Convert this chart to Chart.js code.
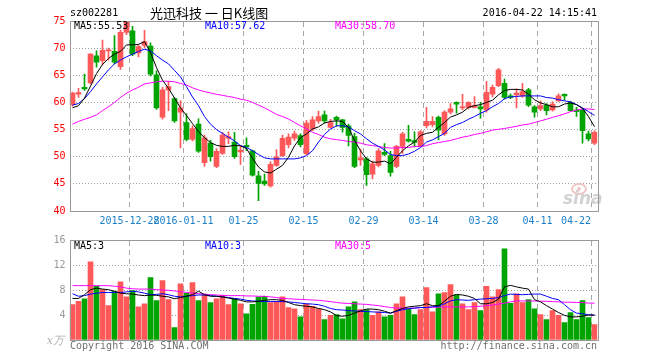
<!DOCTYPE html>
<html>
<head>
<meta charset="utf-8">
<script src="https://cdn.jsdelivr.net/npm/chart.js@4.4.1/dist/chart.umd.min.js"></script>
<style>
  html, body { margin: 0; padding: 0; background: #fff; }
  #wrap { position: relative; width: 660px; height: 360px; }
  #kline { position: absolute; left: 0; top: 0; }
  #vol { position: absolute; left: 0; top: 230px; }
</style>
</head>
<body>
<div id="wrap">
  <canvas id="kline" width="660" height="230"></canvas>
  <canvas id="vol" width="660" height="130"></canvas>
</div>
<script>
const dates = [
  "2015-12-14","2015-12-15","2015-12-16","2015-12-17","2015-12-18","2015-12-21","2015-12-22","2015-12-23","2015-12-24","2015-12-25",
  "2015-12-28","2015-12-29","2015-12-30","2015-12-31","2016-01-04","2016-01-05","2016-01-06","2016-01-07","2016-01-08","2016-01-11",
  "2016-01-12","2016-01-13","2016-01-14","2016-01-15","2016-01-18","2016-01-19","2016-01-20","2016-01-21","2016-01-22","2016-01-25",
  "2016-01-26","2016-01-27","2016-01-28","2016-01-29","2016-02-01","2016-02-02","2016-02-03","2016-02-04","2016-02-05","2016-02-15",
  "2016-02-16","2016-02-17","2016-02-18","2016-02-19","2016-02-22","2016-02-23","2016-02-24","2016-02-25","2016-02-26","2016-02-29",
  "2016-03-01","2016-03-02","2016-03-03","2016-03-04","2016-03-07","2016-03-08","2016-03-09","2016-03-10","2016-03-11","2016-03-14",
  "2016-03-15","2016-03-16","2016-03-17","2016-03-18","2016-03-21","2016-03-22","2016-03-23","2016-03-24","2016-03-25","2016-03-28",
  "2016-03-29","2016-03-30","2016-03-31","2016-04-01","2016-04-05","2016-04-06","2016-04-07","2016-04-08","2016-04-11","2016-04-12",
  "2016-04-13","2016-04-14","2016-04-15","2016-04-18","2016-04-19","2016-04-20","2016-04-21","2016-04-22"
];

// axis labels shown under the k-line panel
const tickDates = ["2015-12-28","2016-01-11","2016-01-25","2016-02-15","2016-02-29","2016-03-14","2016-03-28","2016-04-11","2016-04-22"];
const tickTexts = ["2015-12-28","2016-01-11","01-25","02-15","02-29","03-14","03-28","04-11","04-22"];

const opens = [
  59.6,61.5,62.8,63.6,68.6,67.7,69.5,69.4,66.6,72.9,
  73.2,69.1,70.5,70.4,65.1,57.3,62.3,60.7,58.2,56.3,
  53.2,56.0,48.9,52.5,48.2,50.6,53.4,52.7,50.9,52.1,
  51.1,46.5,45.5,44.6,48.4,50.2,52.2,53.4,53.9,50.5,
  55.1,56.6,57.7,55.4,57.25,56.8,55.7,53.7,49.4,49.6,
  46.8,48.4,50.8,50.2,48.2,51.9,53.2,52.95,51.9,55.7,
  55.9,57.25,54.2,58.2,60.0,59.0,59.1,59.1,59.2,58.6,
  61.5,63.1,63.5,61.2,61.4,61.2,62.3,59.2,58.8,59.5,
  58.6,60.3,61.5,60.0,58.6,58.6,54.2,52.5
];
const closes = [
  61.7,61.8,62.5,68.9,67.4,69.6,69.7,67.4,72.9,75.0,
  68.9,70.3,71.2,65.2,59.0,62.3,62.9,56.6,59.0,53.2,
  55.2,51.0,53.5,50.0,51.0,54.0,53.7,50.0,51.2,51.8,
  46.6,45.1,45.0,48.6,50.0,53.4,53.6,54.2,52.2,56.2,
  56.8,57.4,56.6,56.3,56.8,55.4,53.9,48.2,49.8,46.7,
  48.7,51.1,50.4,47.1,51.9,54.2,52.85,52.65,54.6,56.5,
  56.5,54.9,58.2,58.8,59.7,59.2,60.0,59.4,58.8,61.85,
  62.8,66.0,60.9,60.9,61.7,62.0,59.5,58.2,59.4,58.5,
  59.7,61.2,61.2,58.5,58.3,54.8,53.3,54.5
];
const highs = [
  61.9,62.6,65.2,69.0,69.5,71.5,70.0,72.3,73.3,75.6,
  74.0,70.6,73.3,71.0,65.8,62.8,63.9,60.9,60.3,57.9,
  55.7,57.0,54.0,53.0,51.5,54.5,54.6,54.5,52.0,53.5,
  51.2,47.3,46.8,49.1,51.3,54.0,54.2,54.7,54.2,56.7,
  57.4,58.4,58.4,56.9,57.5,56.9,56.0,54.3,51.4,49.9,
  49.2,51.5,52.4,51.0,52.1,54.5,55.8,54.6,54.8,59.1,
  57.4,57.5,58.5,59.8,60.1,61.5,60.1,61.1,60.0,63.9,
  63.2,66.3,64.3,61.6,62.5,63.5,62.6,59.4,60.3,59.8,
  60.1,61.6,61.6,60.2,59.1,58.8,54.7,54.8
];
const lows = [
  59.3,60.9,62.2,63.4,66.5,66.9,67.8,67.1,66.1,72.5,
  68.6,68.4,70.1,64.9,58.7,56.9,58.5,56.3,51.6,52.9,
  52.9,50.8,48.2,49.2,48.0,50.4,52.4,49.7,48.6,51.1,
  46.4,41.9,44.7,44.4,48.2,50.0,51.6,53.0,51.8,50.4,
  54.8,56.2,56.2,55.3,55.6,54.5,52.0,48.0,48.4,44.7,
  45.9,48.1,50.2,46.4,48.0,50.5,52.7,51.8,51.8,55.3,
  55.5,53.1,53.9,57.9,58.0,58.6,58.8,59.0,57.1,58.2,
  61.0,62.9,60.6,60.7,59.0,60.9,59.2,57.3,58.5,57.7,
  58.4,60.2,60.4,58.4,57.4,52.5,52.9,52.2
];
const ma5 = [
  59.0,59.4,60.8,63.0,65.3,67.0,68.1,68.9,69.4,70.6,
  70.6,70.7,71.2,69.2,66.4,64.1,62.6,60.8,59.0,57.6,
  56.1,54.6,53.5,52.6,52.1,51.9,51.9,52.1,52.0,51.5,
  49.7,48.1,47.2,47.0,47.7,48.4,49.9,52.0,53.5,54.2,
  55.1,55.5,56.2,56.5,56.6,56.5,55.4,53.0,51.1,49.6,
  49.0,49.0,49.2,48.7,49.9,51.1,52.0,52.7,53.9,54.3,
  54.5,55.4,56.3,57.3,57.7,58.2,59.1,59.4,59.6,60.0,
  60.4,61.4,62.2,62.4,62.4,62.3,61.5,60.5,59.9,59.6,
  59.2,59.2,59.7,59.9,59.6,58.9,57.4,55.53
];
const ma10 = [
  59.5,59.8,60.7,62.0,63.4,64.7,66.0,67.1,67.8,68.4,
  68.9,69.4,69.8,69.5,68.6,67.8,67.1,65.9,64.7,62.9,
  61.0,59.4,57.4,56.0,55.0,54.3,53.6,52.9,52.05,51.7,
  51.1,50.4,49.8,49.6,49.6,49.6,49.6,49.6,49.8,50.2,
  51.1,52.7,54.1,55.1,55.7,55.7,55.5,54.8,54.2,53.3,
  52.5,51.9,51.25,50.4,50.2,50.2,50.5,51.0,51.7,52.7,
  53.1,53.7,54.3,55.4,55.9,56.3,56.9,57.4,58.0,58.5,
  59.2,59.8,60.7,61.0,61.1,61.2,61.2,61.2,61.2,60.9,
  60.8,60.5,60.3,60.1,59.6,59.0,58.3,57.62
];
const ma30 = [
  56.0,56.5,56.9,57.25,57.7,58.5,59.2,60.0,60.9,61.7,
  62.3,62.8,63.4,63.6,63.8,63.9,63.9,63.8,63.5,63.2,
  62.7,62.3,62.0,61.75,61.5,61.3,61.1,60.9,60.6,60.4,
  60.0,59.5,59.0,58.4,57.8,57.4,56.95,56.3,55.7,55.1,
  54.5,54.1,53.6,53.3,53.15,53.0,52.8,52.7,52.5,52.2,
  52.05,51.9,51.7,51.6,51.6,51.7,51.7,51.9,51.9,52.05,
  52.4,52.6,52.8,53.0,53.3,53.6,53.8,54.1,54.3,54.6,
  54.9,55.05,55.2,55.4,55.6,55.85,56.0,56.3,56.6,56.9,
  57.25,57.55,57.9,58.3,58.6,58.8,58.8,58.7
];

// volume, in units of 10k (x万)
const volumes = [
  5.65,6.2,6.6,12.5,8.6,8.05,5.5,7.8,9.3,6.9,
  7.9,5.3,5.8,10.0,6.3,9.5,6.45,2.0,9.0,7.5,
  9.2,6.3,7.25,6.0,6.6,7.15,5.65,6.6,5.8,4.2,
  5.7,6.9,7.0,6.0,6.2,6.9,5.2,5.0,3.7,5.75,
  5.4,5.0,3.25,3.95,4.05,3.4,5.3,6.1,4.85,4.85,
  3.95,4.5,3.7,3.95,5.8,6.9,4.95,4.05,4.85,8.4,
  4.5,7.4,7.6,8.85,7.2,5.8,4.85,6.0,4.7,8.6,
  6.9,8.05,14.6,5.85,7.4,6.0,6.45,5.0,4.05,3.25,
  4.7,3.95,2.8,4.4,3.25,6.3,3.6,2.45
];
const volMa5 = [
  6.65,6.65,7.25,8.05,8.3,8.15,8.05,7.8,7.5,7.4,
  7.35,7.2,7.1,7.2,7.15,7.0,6.9,6.6,6.8,7.0,
  7.25,7.8,7.25,7.0,7.0,6.9,6.7,6.55,6.35,6.1,
  6.1,6.2,6.35,6.45,6.45,6.35,6.0,5.65,5.5,5.4,
  5.3,5.05,4.85,4.5,3.9,3.8,3.95,4.3,4.65,4.95,
  4.95,4.85,4.6,4.3,4.7,5.05,5.3,5.4,5.5,5.8,
  5.5,5.5,6.2,7.0,7.3,7.2,7.0,6.65,5.8,5.8,
  6.0,6.55,8.5,8.75,8.5,8.3,8.15,6.45,6.1,5.5,
  4.95,4.4,3.95,3.7,3.7,3.8,4.0,4.0
];
const volMa10 = [
  7.4,7.0,7.1,7.35,7.5,7.6,7.6,7.6,7.6,7.7,
  7.8,7.7,7.5,7.25,7.3,7.4,7.25,7.0,6.9,7.0,
  7.1,7.2,7.2,7.1,7.0,6.9,6.8,6.65,6.55,6.35,
  6.25,6.2,6.15,6.15,6.15,6.15,6.1,6.0,5.9,5.8,
  5.75,5.65,5.4,5.05,4.85,4.8,4.7,4.65,4.6,4.55,
  4.5,4.45,4.4,4.3,4.6,4.85,5.0,5.1,5.2,5.2,
  5.3,5.4,5.8,6.25,6.45,6.4,6.35,6.45,6.55,6.6,
  6.65,6.8,7.1,7.35,7.3,7.25,7.3,7.35,7.35,7.0,
  6.65,6.45,5.65,4.85,4.3,4.2,4.05,3.95
];
const volMa30 = [
  8.7,8.7,8.7,8.7,8.7,8.7,8.7,8.6,8.5,8.3,
  8.2,8.15,8.15,8.15,8.05,8.0,7.95,7.85,7.75,7.6,
  7.5,7.4,7.35,7.25,7.2,7.15,7.1,7.1,7.1,7.05,
  7.05,7.0,7.0,6.9,6.8,6.65,6.6,6.55,6.5,6.45,
  6.4,6.35,6.25,6.15,6.0,5.9,5.85,5.8,5.75,5.7,
  5.6,5.5,5.35,5.2,5.1,5.1,5.1,5.1,5.2,5.2,
  5.25,5.25,5.3,5.3,5.3,5.3,5.3,5.35,5.4,5.5,
  5.6,5.75,5.9,6.1,6.25,6.25,6.25,6.25,6.2,6.2,
  6.15,6.1,6.05,6.05,6.0,6.0,5.9,5.9
];

const RED = "#ff5858";
const GREEN = "#00a400";
const GRID = "#a0a0a0";
const DASH = "#a8a8a8";
const FRAME = "#999999";
const MONO = '"DejaVu Sans Mono", "Liberation Mono", monospace';

const candleColors = closes.map((c, i) => (c >= opens[i] ? RED : GREEN));
const tickIndex = tickDates.map(d => dates.indexOf(d));

function text(ctx, s, x, y, color, align, font) {
  ctx.save();
  ctx.fillStyle = color;
  ctx.textAlign = align || "left";
  ctx.textBaseline = "middle";
  ctx.font = font || "10px " + MONO;
  ctx.fillText(s, x, y);
  ctx.restore();
}

function drawFrame(chart) {
  const { ctx, chartArea } = chart;
  const l = Math.round(chartArea.left) + 0.5;
  const t = Math.round(chartArea.top) + 0.5;
  const r = Math.round(chartArea.right) + 0.5;
  const b = Math.round(chartArea.bottom) + 0.5;
  ctx.save();
  ctx.strokeStyle = FRAME;
  ctx.lineWidth = 1;
  ctx.setLineDash([]);
  ctx.strokeRect(l, t, r - l, b - t);
  ctx.restore();
}

// gap pixel column just left of each labelled day's slot
function tickLines(chart) {
  const xs = chart.scales.x;
  const half = (xs.getPixelForValue(1) - xs.getPixelForValue(0)) / 2;
  return tickIndex.map(idx => Math.floor(xs.getPixelForValue(idx) - half));
}

function drawDashes(chart) {
  const { ctx, chartArea } = chart;
  const top = Math.round(chartArea.top) + 1;
  const bottom = Math.round(chartArea.bottom);
  ctx.save();
  ctx.fillStyle = DASH;
  for (const x of tickLines(chart)) {
    for (let y = top; y < bottom; y += 9) {
      ctx.fillRect(x, y, 1, Math.min(5, bottom - y));
    }
  }
  ctx.restore();
}

function maLine(data, color, order) {
  return {
    type: "line", data, borderColor: color, borderWidth: 1,
    pointRadius: 0, tension: 0, order,
  };
}

function xScale() {
  return {
    offset: true,
    grid: { display: false, drawTicks: false },
    border: { display: false },
    ticks: { display: false, autoSkip: false },
  };
}

const klinePlugin = {
  id: "klineText",
  beforeDatasetsDraw(chart) {
    const ctx = chart.ctx;
    drawDashes(chart);
    // sina watermark
    ctx.save();
    ctx.strokeStyle = "#f2c4c4";
    ctx.lineWidth = 2;
    ctx.beginPath();
    ctx.ellipse(579, 189, 7, 5, 0, 0, Math.PI * 2);
    ctx.stroke();
    ctx.fillStyle = "#f2c4c4";
    ctx.beginPath();
    ctx.arc(579, 189, 2, 0, Math.PI * 2);
    ctx.fill();
    ctx.restore();
    text(ctx, "sina", 563, 200, "#d2d2d2", "left", 'italic bold 17px "DejaVu Sans", sans-serif');
  },
  afterDraw(chart) {
    const ctx = chart.ctx;
    drawFrame(chart);
    const lines = tickLines(chart);
    lines.forEach((x, k) => {
      const last = k === lines.length - 1;
      text(ctx, tickTexts[k], last ? x : x + 0.5, 221, "#1a7fc8", last ? "right" : "center");
    });
    text(ctx, "MA5:55.53", 74, 26, "#000000");
    text(ctx, "MA10:57.62", 205, 26, "#0000ff");
    text(ctx, "MA30:58.70", 335, 26, "#ff00ff");
    text(ctx, "sz002281", 70, 13, "#000000");
    text(ctx, "光迅科技 一 日K线图", 150, 13, "#000000", "left", '13px "Noto Sans CJK SC", sans-serif');
    text(ctx, "2016-04-22 14:15:41", 597, 13, "#000000", "right");
  },
};

const volPlugin = {
  id: "volText",
  beforeDatasetsDraw(chart) {
    drawDashes(chart);
  },
  afterDraw(chart) {
    const ctx = chart.ctx;
    drawFrame(chart);
    text(ctx, "MA5:3", 74, 16, "#000000");
    text(ctx, "MA10:3", 205, 16, "#0000ff");
    text(ctx, "MA30:5", 335, 16, "#ff00ff");
    text(ctx, "x万", 64, 111, "#b0b0b0", "right", 'italic 11px "DejaVu Serif", serif');
    text(ctx, "Copyright 2016 SINA.COM", 70, 116, "#707070");
    text(ctx, "http://finance.sina.com.cn", 597, 116, "#707070", "right");
  },
};

new Chart(document.getElementById("kline"), {
  type: "bar",
  data: {
    labels: dates,
    datasets: [
      maLine(ma5, "#000000", 0),
      maLine(ma10, "#0000ff", 0),
      maLine(ma30, "#ff00ff", 0),
      {
        data: opens.map((o, i) => [o, closes[i]]),
        backgroundColor: candleColors, barThickness: 5, minBarLength: 1,
        grouped: false, order: 1,
      },
      {
        data: lows.map((l, i) => [l, highs[i]]),
        backgroundColor: candleColors, barThickness: 1,
        grouped: false, order: 2,
      },
    ],
  },
  options: {
    responsive: false,
    animation: false,
    devicePixelRatio: 1,
    layout: { padding: { top: 21, right: 62.5, left: 0, bottom: 19 } },
    plugins: { legend: { display: false }, tooltip: { enabled: false } },
    scales: {
      x: xScale(),
      y: {
        min: 40, max: 75,
        afterFit: s => { s.width = 69.5; },
        ticks: { stepSize: 5, color: "#ff0000", padding: 4, font: { family: MONO, size: 10 } },
        grid: { drawTicks: false, color: GRID },
        border: { display: false, dash: [1, 2] },
      },
    },
  },
  plugins: [klinePlugin],
});

new Chart(document.getElementById("vol"), {
  type: "bar",
  data: {
    labels: dates,
    datasets: [
      maLine(volMa5, "#000000", 0),
      maLine(volMa10, "#0000ff", 0),
      maLine(volMa30, "#ff00ff", 0),
      {
        data: volumes, backgroundColor: candleColors, barThickness: 5,
        grouped: false, order: 1,
      },
    ],
  },
  options: {
    responsive: false,
    animation: false,
    devicePixelRatio: 1,
    layout: { padding: { top: 10, right: 62.5, left: 0, bottom: 20 } },
    plugins: { legend: { display: false }, tooltip: { enabled: false } },
    scales: {
      x: xScale(),
      y: {
        min: 0, max: 16,
        afterFit: s => { s.width = 69.5; },
        ticks: {
          stepSize: 4, color: "#999999", padding: 4, font: { family: MONO, size: 10 },
          callback: v => (v === 0 ? "" : v),
        },
        grid: { drawTicks: false, color: GRID },
        border: { display: false, dash: [1, 2] },
      },
    },
  },
  plugins: [volPlugin],
});
</script>
</body>
</html>
